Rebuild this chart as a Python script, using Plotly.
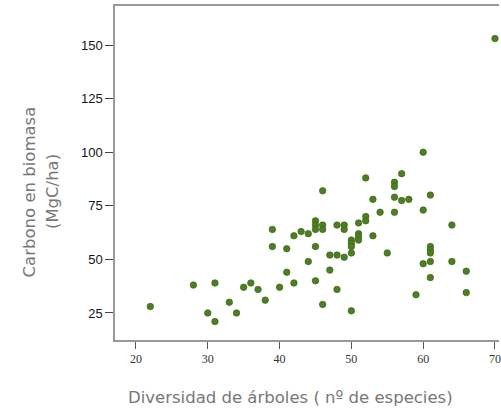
import plotly.graph_objects as go

diversidad = [22, 28, 30, 31, 31, 33, 34, 35, 36, 37, 38,
              39, 39, 40, 41, 41, 42, 42, 43, 44, 44,
              45, 45, 45, 45, 45, 46, 46, 46, 46,
              47, 47, 48, 48, 48, 49, 49, 49,
              50, 50, 50, 50, 50, 51, 51, 51, 51,
              52, 52, 52, 53, 53, 54, 55, 56, 56, 56, 56, 57, 57, 58,
              59, 60, 60, 60, 61, 61, 61, 61, 61, 61, 64, 64, 66, 66, 70]
carbono = [28, 38, 25, 39, 21, 30, 25, 37, 39, 36, 31,
           64, 56, 37, 55, 44, 61, 39, 63, 62, 49,
           68, 66, 64, 56, 40, 82, 66, 64, 29,
           52, 45, 66, 52, 36, 66, 64, 51,
           59, 57.5, 56, 53, 26, 67, 62, 60.5, 59,
           88, 70, 68, 78, 61, 72, 53, 86, 84, 79, 72, 90, 77.5, 78,
           33.5, 100, 73, 48, 80, 56, 54.5, 53, 49, 41.5, 66, 49, 44.5, 34.5, 153]

x_ticks = [20, 30, 40, 50, 60, 70]
y_ticks = [25, 50, 75, 100, 125, 150]

fig = go.Figure()
fig.add_trace(go.Scatter(
    x=diversidad, y=carbono, mode="markers",
    marker=dict(size=6.5, color="#4d7f22", line=dict(color="#3c6619", width=0.7)),
    showlegend=False, hoverinfo="x+y", cliponaxis=False,
))

title_font = dict(family="DejaVu Sans", size=16.5, color="#777777")

fig.update_layout(
    width=501, height=410,
    margin=dict(l=115, r=0, t=6, b=70),
    paper_bgcolor="white", plot_bgcolor="white",
    xaxis=dict(
        range=[17.08, 70.56], tickvals=x_ticks, ticks="outside", ticklen=7,
        tickcolor="#555", showline=True, linecolor="#999", linewidth=1.5, mirror=True,
        showgrid=False, zeroline=False, ticklabeloverflow="allow",
        tickfont=dict(family="Liberation Serif", size=12, color="#333"),
    ),
    yaxis=dict(
        range=[12.4, 168.2], tickvals=y_ticks, ticks="outside", ticklen=8,
        tickcolor="#444", showline=True, linecolor="#999", linewidth=1.5,
        showgrid=False, zeroline=False,
        tickfont=dict(family="Liberation Sans", size=13, color="#151515"),
    ),
    annotations=[
        dict(text="Diversidad de árboles ( nº de especies)", xref="paper", yref="paper",
             x=0.457, y=-0.171, showarrow=False, font=title_font,
             xanchor="center", yanchor="middle"),
        dict(text="Carbono en biomasa", xref="paper", yref="paper",
             x=-0.223, y=0.443, showarrow=False, font=title_font, textangle=-90,
             xanchor="center", yanchor="middle"),
        dict(text="(MgC/ha)", xref="paper", yref="paper",
             x=-0.164, y=0.443, showarrow=False, font=title_font, textangle=-90,
             xanchor="center", yanchor="middle"),
    ],
)

fig.write_html("out.html", config={"displayModeBar": False},
               post_script="document.body.style.margin='0';document.body.style.overflow='hidden';")
